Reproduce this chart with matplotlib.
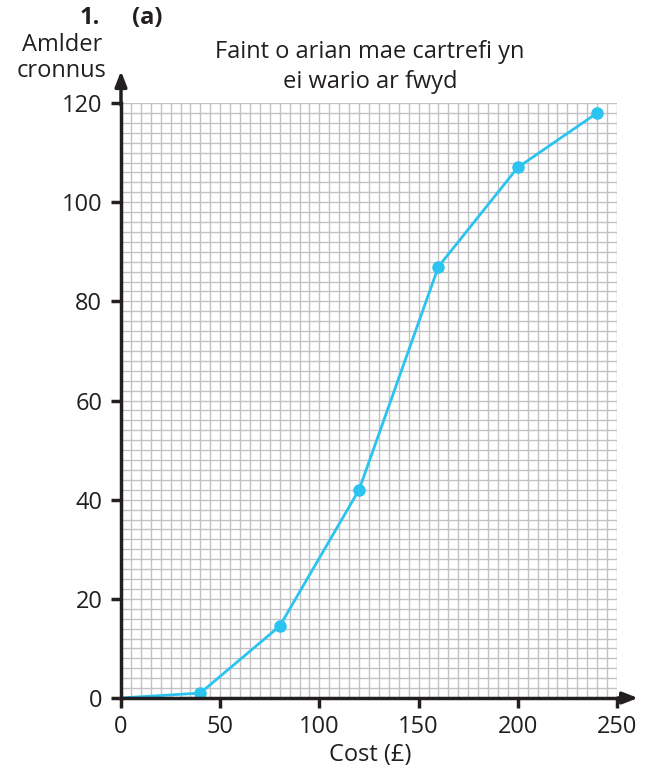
import numpy as np
import matplotlib.pyplot as plt

plt.rcParams['font.family'] = ['Open Sans', 'DejaVu Sans']

cost = [0, 40, 80, 120, 160, 200, 240]
cum_freq = [0, 1, 14.5, 42, 87, 107, 118]
x_ticks = [0, 50, 100, 150, 200, 250]
y_ticks = [0, 20, 40, 60, 80, 100, 120]

fig = plt.figure(figsize=(6.45, 7.69), dpi=100)
W, H = 645, 769
ax = fig.add_axes([121 / W, 1 - 698 / H, (617 - 121) / W, (698 - 103) / H])
ax.set_xlim(0, 250)
ax.set_ylim(0, 120)

# graph paper grid
grid_col = '#c2c2c6'
for gx in np.arange(5, 250.1, 5):
    ax.axvline(gx, color=grid_col, lw=1, zorder=1)
for gy in np.arange(2, 120.1, 2):
    ax.axhline(gy, color=grid_col, lw=1, zorder=1)

ax.plot(cost, cum_freq, color='#2bc3ef', lw=2, marker='o', ms=8, zorder=3,
        markevery=list(range(1, len(cost))), clip_on=False)

for s in ['top', 'right']:
    ax.spines[s].set_visible(False)
for s in ['left', 'bottom']:
    ax.spines[s].set_linewidth(2.5)
    ax.spines[s].set_color('#231f20')
    ax.spines[s].set_zorder(4)

# axis arrows
ax.annotate('', xy=(262, 0), xytext=(249, 0), xycoords='data',
            arrowprops=dict(arrowstyle='-|>,head_length=0.9,head_width=0.35',
                            color='#231f20', lw=2.5), annotation_clip=False)
ax.annotate('', xy=(0, 127), xytext=(0, 119), xycoords='data',
            arrowprops=dict(arrowstyle='-|>,head_length=0.9,head_width=0.35',
                            color='#231f20', lw=2.5), annotation_clip=False)

ax.set_xticks(x_ticks)
ax.set_yticks(y_ticks)
ax.tick_params(direction='out', length=7.5, width=2.5, color='#231f20',
               labelsize=17, labelcolor='#231f20')
ax.tick_params(axis='x', pad=5)
ax.tick_params(axis='y', pad=6)

fig.text(370 / W, 1 - 755 / H, 'Cost (£)', ha='center', va='center',
         fontsize=17, color='#231f20')
fig.text(62 / W, 1 - 58 / H, 'Amlder\ncronnus', ha='center', va='center',
         fontsize=17, color='#231f20', linespacing=1.1)
fig.text(370 / W, 1 - 67 / H, 'Faint o arian mae cartrefi yn\nei wario ar fwyd',
         ha='center', va='center', fontsize=17, color='#231f20', linespacing=1.3)
fig.text(100 / W, 1 - 18 / H, '1.', ha='right', va='center', fontsize=17,
         fontweight='bold', color='#231f20')
fig.text(132 / W, 1 - 18 / H, '(a)', ha='left', va='center', fontsize=17,
         fontweight='bold', color='#231f20')

fig.savefig('out.png', dpi=100)
